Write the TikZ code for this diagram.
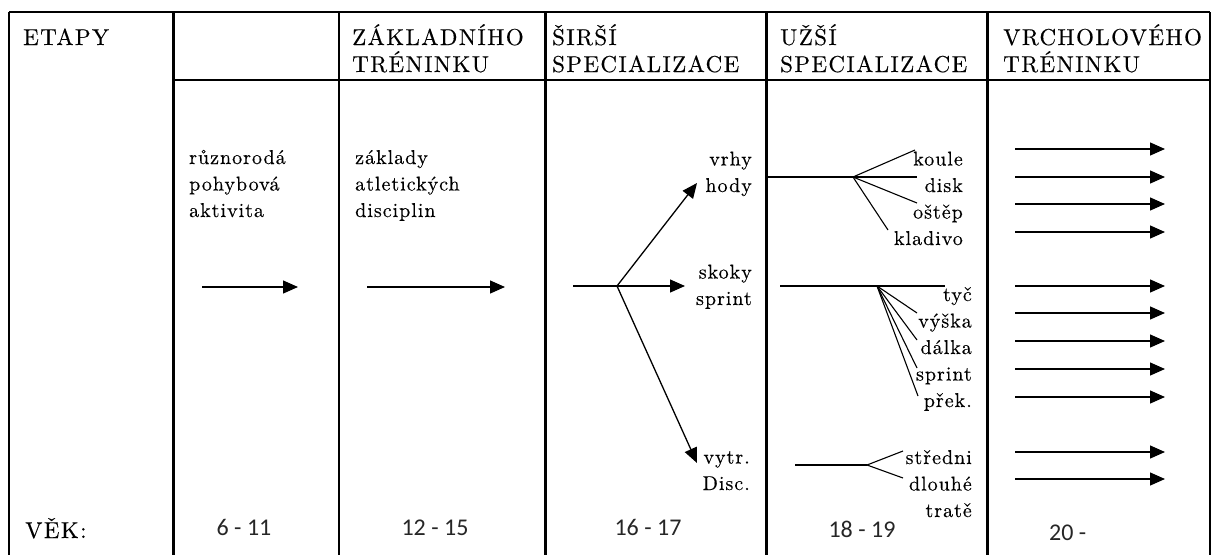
\documentclass[tikz,border=0pt]{standalone}
\usepackage{fontspec}
\newfontfamily\hdrfont{lmroman10-regular.otf}[LetterSpace=6,FakeBold=0.3]
\newfontfamily\bodyfont{lmroman10-regular.otf}[LetterSpace=5,FakeBold=0.3]
\newfontfamily\numfont{Carlito}
\usetikzlibrary{arrows.meta}
\tikzset{
  hdr/.style={inner sep=0pt, font=\hdrfont\fontsize{23}{27}\selectfont, align=left, anchor=base west},
  lbl/.style={inner sep=0pt, font=\bodyfont\fontsize{20}{26.5}\selectfont, align=left, anchor=base west},
  rlbl/.style={lbl, align=right, anchor=base east},
  age/.style={inner sep=0pt, font=\numfont\fontsize{24}{28}\selectfont, text=black!85, anchor=base},
  thinrule/.style={line width=1.5pt},
  midrule/.style={line width=2pt},
  thickrule/.style={line width=3pt},
  arr/.style={line width=1.3pt, -{Triangle[length=15pt,width=13pt]}},
  fan/.style={line width=1.1pt},
}
\begin{document}
\begin{tikzpicture}[x=1pt,y=-1pt]
\useasboundingbox (0,0) rectangle (1211,555);
% table frame
\draw[thinrule] (9,12) -- (1210,12);
\draw[thinrule] (173,80) -- (1210,80);
\draw[thinrule] (9,12) -- (9,555);
\draw[thickrule] (173,12) -- (173,555);
\draw[midrule] (339,12) -- (339,555);
\draw[thickrule] (545,12) -- (545,555);
\draw[thickrule] (766,12) -- (766,555);
\draw[thickrule] (987,12) -- (987,555);
\draw[thinrule] (1210,12) -- (1210,555);

% headers (anchored at the baseline of the last line)
\node[hdr] (etapy) at (23,45) {ETAPY};
\node[hdr] (h3) at (352,72) {ZÁKLADNÍHO\\TRÉNINKU};
\node[hdr] (h4) at (552,72) {ŠIRŠÍ\\SPECIALIZACE};
\node[hdr] (h5) at (780,72) {UŽŠÍ\\SPECIALIZACE};
\node[hdr] (h6) at (1003,72) {VRCHOLOVÉHO\\TRÉNINKU};
\node[hdr] (vek) at (25,538) {VĚK:};

% ages
\node[age] (g2) at (244,535) {6 - 11};
\node[age] (g3) at (435,535) {12 - 15};
\node[age] (g4) at (648,535) {16 - 17};
\node[age] (g5) at (862,537) {18 - 19};
\node[age, anchor=base west] (g6) at (1049,540) {20 -};

% column 2 and 3
\node[lbl] (t2) at (189,217) {různorodá\\pohybová\\aktivita};
\node[lbl] (t3) at (355,217) {základy\\atletických\\disciplin};
\coordinate (a2s) at (202,287); \coordinate (a2e) at (298,287);
\coordinate (a3s) at (367,287); \coordinate (a3e) at (505,287);
\draw[arr] (a2s) -- (a2e);
\draw[arr] (a3s) -- (a3e);

% column 4
\coordinate (c4s) at (573,286);
\coordinate (c4b) at (617,286);
\coordinate (c4m) at (685,286);
\coordinate (c4u) at (697,183);
\coordinate (c4d) at (697,463);
\draw[line width=1.3pt] (c4s) -- (c4b);
\draw[arr] (c4b) -- (c4m);
\draw[arr] (c4b) -- (c4u);
\draw[arr] (c4b) -- (c4d);
\node[rlbl] (vrhy) at (752,192) {vrhy\\hody};
\node[rlbl] (skoky) at (752,305) {skoky\\sprint};
\node[rlbl] (vytr) at (750,490) {vytr.\\Disc.};

% column 5, throws
\coordinate (c5s) at (768,177);
\coordinate (c5b) at (853,177);
\coordinate (e1) at (915,150);
\coordinate (e2) at (917,177);
\coordinate (e3) at (917,203);
\coordinate (e4) at (888,230);
\draw[fan] (c5s) -- (e2);
\draw[fan] (c5b) -- (e1);
\draw[fan] (c5b) -- (e3);
\draw[fan] (c5b) -- (e4);
\node[rlbl] (hod) at (963,245) {koule\\disk\\oštěp\\kladivo};

% column 5, jumps and sprint
\coordinate (m5s) at (780,286);
\coordinate (m5b) at (877,286);
\coordinate (m5e) at (945,286);
\coordinate (f1) at (917,313);
\coordinate (f2) at (917,340);
\coordinate (f3) at (917,368);
\coordinate (f4) at (918,396);
\draw[fan] (m5s) -- (m5e);
\draw[fan] (m5b) -- (f1);
\draw[fan] (m5b) -- (f2);
\draw[fan] (m5b) -- (f3);
\draw[fan] (m5b) -- (f4);
\node[rlbl] (sk) at (972,407) {tyč\\výška\\dálka\\sprint\\přek.};

% column 5, endurance
\coordinate (l5s) at (795,465);
\coordinate (l5b) at (867,465);
\coordinate (h1) at (903,451);
\coordinate (h2) at (903,478);
\draw[fan] (l5s) -- (l5b);
\draw[fan] (l5b) -- (h1);
\draw[fan] (l5b) -- (h2);
\node[rlbl] (vy) at (972,517) {středni\\dlouhé\\tratě};

% column 6 arrows
\foreach \i/\y in {1/149,2/177,3/204,4/232,5/286,6/313,7/341,8/369,9/397,10/452,11/479} {
  \coordinate (s\i) at (1015,\y);
  \coordinate (t\i) at (1165,\y);
  \draw[arr] (s\i) -- (t\i);
}
\end{tikzpicture}
\end{document}
